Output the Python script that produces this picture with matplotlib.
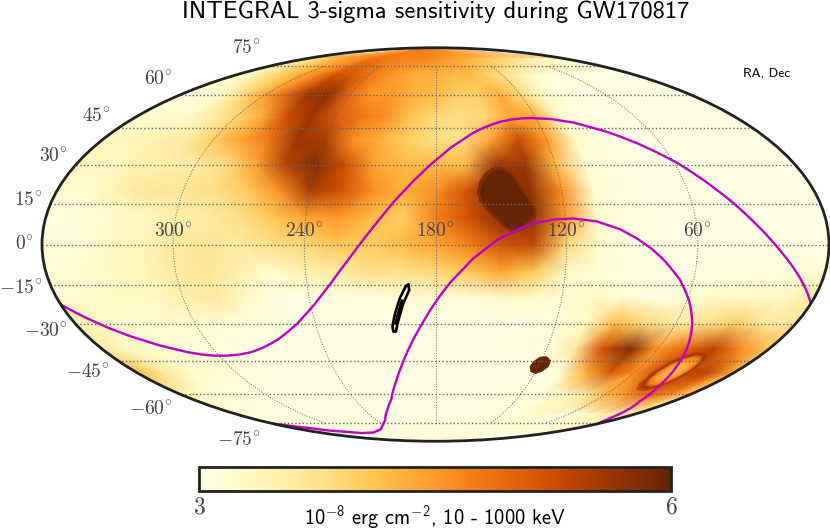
#!/usr/bin/env python3
"""INTEGRAL sensitivity sky map during GW170817, values read off the picture"""

import numpy as np
import matplotlib
matplotlib.use('Agg')
import matplotlib.pyplot as plt
from matplotlib.colors import Normalize

plt.rcParams['font.family'] = ['cmss10', 'DejaVu Sans']
plt.rcParams['axes.unicode_minus'] = False
plt.rcParams['mathtext.fontset'] = 'custom'
plt.rcParams['mathtext.rm'] = 'cmss10'
plt.rcParams['mathtext.it'] = 'cmss10'
plt.rcParams['mathtext.bf'] = 'cmss10'

# sensitivity grid, 1e-8 erg/cm2
grid_ra = [360, 345, 330, 315, 300, 285, 270, 255, 240, 225, 210, 195, 180,
           165, 150, 135, 120, 105, 90, 75, 60, 45, 30, 15, 0]
grid_dec = [90, 80, 70, 60, 50, 40, 30, 20, 10, 0, -10, -20, -30, -40, -50, -60, -70, -80, -90]

row_p90 = [4.7] * 25
row_p80 = [3.7, 3.9, 4.1, 4.3, 4.5, 4.6, 4.8, 4.8, 4.7, 4.7, 4.7, 4.7, 4.6, 4.5, 4.4, 4.3, 4.2, 4.1, 4.0, 3.8, 3.7, 3.5, 3.4, 3.3, 3.2]
row_p70 = [3.3, 3.4, 3.8, 4.1, 4.4, 4.7, 5.2, 5.1, 4.8, 4.6, 4.4, 4.3, 4.3, 4.2, 4.2, 4.0, 3.8, 3.5, 3.2, 3.1, 3.05, 3.0, 3.0, 3.0, 3.0]
row_p60 = [3.1, 3.1, 3.3, 3.9, 4.4, 5.0, 5.6, 5.7, 4.9, 4.5, 4.5, 4.3, 4.2, 4.0, 4.0, 4.3, 3.9, 3.3, 3.05, 3.0, 3.0, 3.0, 3.0, 3.0, 3.0]
row_p50 = [3.3, 3.2, 3.2, 3.5, 3.9, 4.3, 5.2, 5.6, 5.1, 4.8, 4.6, 4.1, 3.9, 3.8, 3.9, 4.4, 4.3, 3.2, 3.05, 3.0, 3.0, 3.0, 3.0, 3.0, 3.0]
row_p40 = [3.3, 3.4, 3.5, 3.6, 4.0, 4.4, 4.8, 5.6, 5.5, 4.6, 4.3, 4.0, 3.8, 3.8, 4.4, 5.3, 4.5, 3.3, 3.05, 3.0, 3.0, 3.0, 3.0, 3.0, 3.0]
row_p30 = [3.4, 3.3, 3.5, 3.5, 3.6, 3.8, 4.4, 5.4, 5.8, 5.2, 4.4, 4.2, 4.2, 4.2, 5.6, 5.6, 4.2, 3.15, 3.05, 3.0, 3.0, 3.0, 3.0, 3.0, 3.0]
row_p20 = [3.2, 3.2, 3.5, 3.7, 3.7, 3.8, 4.0, 4.5, 5.5, 5.2, 4.6, 4.3, 4.6, 5.2, 5.8, 5.7, 4.6, 3.2, 3.05, 3.0, 3.0, 3.0, 3.0, 3.0, 3.0]
row_p10 = [3.05, 3.1, 3.2, 3.3, 3.5, 3.6, 3.8, 4.1, 4.4, 4.5, 4.2, 4.0, 4.7, 5.2, 5.7, 5.7, 4.5, 3.2, 3.05, 3.0, 3.0, 3.0, 3.0, 3.0, 3.0]
row_000 = [3.1, 3.1, 3.3, 3.4, 3.6, 3.7, 3.6, 3.8, 3.9, 4.1, 4.0, 4.2, 4.4, 4.7, 5.2, 5.3, 3.9, 3.2, 3.05, 3.0, 3.0, 3.0, 3.0, 3.0, 3.0]
row_m10 = [3.1, 3.2, 3.3, 3.4, 3.6, 3.7, 3.5, 3.2, 3.5, 3.6, 3.8, 3.8, 3.9, 4.1, 4.4, 4.1, 3.3, 3.15, 3.05, 3.0, 3.0, 3.05, 3.1, 3.1, 3.2]
row_m20 = [3.2, 3.2, 3.3, 3.3, 3.5, 3.6, 3.3, 3.05, 3.05, 3.05, 3.05, 3.15, 3.2, 3.1, 3.2, 3.3, 3.15, 3.3, 3.15, 3.05, 3.15, 3.3, 3.25, 3.3, 3.6]
row_m30 = [3.5, 3.3, 3.2, 3.2, 3.2, 3.15, 3.05, 3.05, 3.0, 3.0, 3.0, 3.0, 3.0, 3.0, 3.0, 3.0, 3.1, 3.3, 4.2, 3.9, 3.6, 3.8, 4.0, 3.6, 3.7]
row_m40 = [3.6, 3.3, 3.2, 3.1, 3.1, 3.05, 3.0, 3.0, 3.0, 3.0, 3.0, 3.0, 3.0, 3.0, 3.0, 3.05, 3.1, 3.6, 5.2, 5.8, 4.5, 5.0, 5.4, 4.6, 4.0]
row_m50 = [4.2, 3.7, 3.3, 3.2, 3.15, 3.05, 3.0, 3.0, 3.0, 3.0, 3.0, 3.0, 3.0, 3.0, 3.0, 3.0, 3.0, 3.1, 4.3, 5.1, 4.6, 5.3, 5.4, 5.3, 4.3]
row_m60 = [3.4, 3.2, 3.1, 3.05, 3.0, 3.0, 3.0, 3.0, 3.0, 3.0, 3.0, 3.0, 3.0, 3.0, 3.0, 3.05, 3.05, 3.1, 3.3, 3.6, 4.2, 4.6, 5.0, 4.7, 3.9]
row_m70 = [3.2, 3.1, 3.05, 3.05, 3.0, 3.0, 3.0, 3.0, 3.0, 3.0, 3.0, 3.0, 3.0, 3.0, 3.0, 3.0, 3.05, 3.15, 3.3, 3.2, 3.1, 3.2, 3.5, 3.6, 3.5]
row_m80 = [3.1] * 25
row_m90 = [3.1] * 25

# magenta circles, RA and Dec in degrees
outer_ra = [360.0, 353.3, 345.7, 337.7, 327.6, 316.3, 310.0, 303.2, 295.5, 288.0, 281.0, 274.6, 267.5, 260.7,
            255.0, 249.3, 244.0, 238.8, 234.0, 229.4, 220.9, 212.3, 205.9, 199.9, 191.5, 182.7, 172.4,
            160.8, 154.5, 148.4, 142.0, 135.8, 129.5, 123.5, 111.8, 99.7, 86.2, 79.5, 72.6, 65.5,
            58.4, 54.0, 49.6, 41.4, 32.0, 22.0, 0.1]
outer_dec = [-22.5, -27.0, -31.3, -34.9, -38.4, -41.2, -42.2, -42.8, -42.8, -42.3, -41.4, -40.0, -38.0, -35.5,
             -32.9, -30.0, -26.6, -23.0, -19.0, -15.0, -6.6, 2.6, 9.3, 15.6, 23.2, 30.0, 36.7,
             42.3, 44.6, 46.3, 47.7, 48.6, 49.1, 49.3, 48.9, 47.4, 44.0, 41.7, 38.8, 35.1,
             30.8, 27.3, 23.6, 16.2, 7.0, -2.5, -22.0]
inner_ra = [359.9, 354.0, 343.7, 329.9, 300.5, 276.3, 265.8, 253.2, 240.0, 230.9, 220.5, 212.8, 206.5, 200.9, 191.5,
            182.7, 177.9, 173.2, 162.7, 151.3, 136.5, 125.7, 116.4, 105.7, 95.4, 87.9, 81.1, 75.5, 66.3, 58.8,
            52.1, 44.8, 39.7, 33.1, 25.3, 11.5, 4.3, 0.1]
inner_dec = [-75.5, -76.4, -78.0, -80.0, -81.9, -81.5, -80.5, -79.3, -76.3, -73.4, -67.7, -62.4, -55.5, -48.6, -36.0,
             -24.8, -19.2, -14.2, -5.2, 2.0, 7.6, 9.3, 9.7, 8.6, 5.7, 2.3, -1.6, -5.5, -13.2, -21.2,
             -29.4, -39.4, -47.0, -55.8, -63.3, -71.6, -74.6, -75.5]

# LIGO contour
contour_ra = [192.7, 192.3, 195.4, 198.4, 200.2, 201.5, 201.7, 199.8, 196.9, 193.8, 192.7]
contour_dec = [-15.0, -16.9, -22.0, -28.5, -33.0, -33.0, -31.0, -26.0, -20.0, -15.4, -15.0]
inner_contour_ra = [195.6, 197.6, 199.3, 200.3, 198.3, 196.2, 195.6]
inner_contour_dec = [-21.1, -25.9, -30.0, -30.0, -25.5, -20.8, -21.1]

# saturated areas
spot_ra = [124.9, 124.3, 121.7, 118.1, 114.7, 114.2, 116.4, 119.6, 123.0]
spot_dec = [-47.4, -45.3, -43.4, -43.2, -44.9, -47.4, -49.5, -50.5, -49.5]
blob_ra = [158.9, 157.5, 155.1, 151.5, 147.3, 144.0, 141.5, 139.8, 138.4, 135.6,
           134.6, 135.0, 136.5, 140.0, 144.3, 147.5, 150.3, 153.5, 156.1, 158.3]
blob_dec = [19.1, 22.8, 25.6, 27.6, 28.1, 26.6, 24.2, 21.6, 19.1, 15.5,
            12.8, 10.5, 9.1, 6.8, 5.4, 6.8, 9.1, 11.5, 14.0, 16.5]

# light hole inside the dark ring
hole_ra = [31.8, 29.4, 28.7, 29.8, 32.7, 37.2, 42.2, 45.9, 46.7, 44.6, 40.4, 35.6]
hole_dec = [-43.3, -45.4, -48.7, -52.2, -55.0, -56.2, -55.6, -53.2, -49.8, -46.3, -43.9, -42.7]
hole_scales = [1.35, 1.25, 1.15, 1.07, 1.0, 0.9, 0.7, 0.45]
hole_levels = [5.25, 5.45, 5.6, 5.4, 5.0, 4.65, 4.4, 4.25]

ra_labels = ['300°', '240°', '180°', '120°', '60°']
dec_labels = ['−75°', '−60°', '−45°', '−30°', '−15°', '0°', '15°', '30°', '45°', '60°', '75°']


def to_lon(ra):
    """RA runs to the left, centred on 180"""
    return np.radians(180.0 - np.asarray(ra, dtype=float))


def to_lat(dec):
    return np.radians(np.asarray(dec, dtype=float))


def math_label(label):
    return '$' + label.replace('°', r'^{\!\circ}').replace('−', '-') + '$'


values = np.array([row_p90, row_p80, row_p70, row_p60, row_p50, row_p40, row_p30, row_p20, row_p10, row_000,
                   row_m10, row_m20, row_m30, row_m40, row_m50, row_m60, row_m70, row_m80, row_m90])
norm = Normalize(3, 6)
cmap = plt.get_cmap('YlOrBr')

fig = plt.figure(figsize=(8.3, 5.3), dpi=100)
ax = fig.add_axes([42 / 830, (530 - 441.5) / 530, 787 / 830, 394 / 530], projection='mollweide')

lon, lat = np.meshgrid(to_lon(grid_ra), to_lat(grid_dec))
mesh = ax.pcolormesh(lon, lat, values, cmap=cmap, norm=norm, shading='gouraud', zorder=1)

hole_lon = to_lon(hole_ra)
hole_lat = to_lat(hole_dec)
for scale, level in zip(hole_scales, hole_levels):
    ax.fill(hole_lon.mean() + scale * (hole_lon - hole_lon.mean()),
            hole_lat.mean() + scale * (hole_lat - hole_lat.mean()),
            color=cmap(norm(level)), lw=0, zorder=1.1)

blob_lon = to_lon(blob_ra)
blob_lat = to_lat(blob_dec)
ax.fill(blob_lon.mean() + 1.12 * (blob_lon - blob_lon.mean()),
        blob_lat.mean() + 1.12 * (blob_lat - blob_lat.mean()),
        color=cmap(norm(5.8)), lw=0, zorder=1.1)
ax.fill(blob_lon, blob_lat, color='#662506', lw=0, zorder=1.1)
ax.fill(to_lon(spot_ra), to_lat(spot_dec), color='#662506', lw=0.5, zorder=1.1)

ax.set_longitude_grid(60)
ax.set_latitude_grid(15)
ax.set_longitude_grid_ends(75)
ax.xaxis.grid(True, color='#666666', linestyle=':', linewidth=0.7)
ax.yaxis.grid(True, color='#666666', linestyle=':', linewidth=1.0)
ax.set_xticklabels([math_label(t) for t in ra_labels], fontsize=14, color='#444444', math_fontfamily='cm')
ax.set_yticklabels([math_label(t) for t in dec_labels], fontsize=14, color='#444444', math_fontfamily='cm')

ax.plot(to_lon(outer_ra), to_lat(outer_dec), color='#bf00c0', lw=1.7, zorder=2)
ax.plot(to_lon(inner_ra), to_lat(inner_dec), color='#bf00c0', lw=1.7, zorder=2)
ax.plot(to_lon(contour_ra), to_lat(contour_dec), color='black', lw=1.9, zorder=2)
ax.plot(to_lon(inner_contour_ra), to_lat(inner_contour_dec), color='black', lw=1.3, zorder=2)

for spine in ax.spines.values():
    spine.set_linewidth(2)
    spine.set_edgecolor('#222222')

fig.text(436 / 830, 1 - 12 / 530, 'INTEGRAL 3-sigma sensitivity during GW170817',
         fontsize=17.7, ha='center', va='center')
fig.text(767 / 830, 1 - 74 / 530, 'RA, Dec', fontsize=9.6, ha='center', va='center')

cax = fig.add_axes([199 / 830, (530 - 491) / 530, 472 / 830, 24 / 530])
cbar = fig.colorbar(mesh, cax=cax, orientation='horizontal', ticks=[3, 6])
cbar.ax.set_xticklabels([r'$3$', r'$6$'], fontsize=17, color='#444444', math_fontfamily='cm')
cbar.ax.tick_params(length=0, pad=4)
cbar.outline.set_linewidth(2)
cbar.outline.set_edgecolor('#222222')
fig.text(435 / 830, 1 - 517 / 530, r'$10^{-8}$ erg cm$^{-2}$, 10 - 1000 keV',
         fontsize=14.7, ha='center', va='center')

fig.savefig('out.png', dpi=100)
